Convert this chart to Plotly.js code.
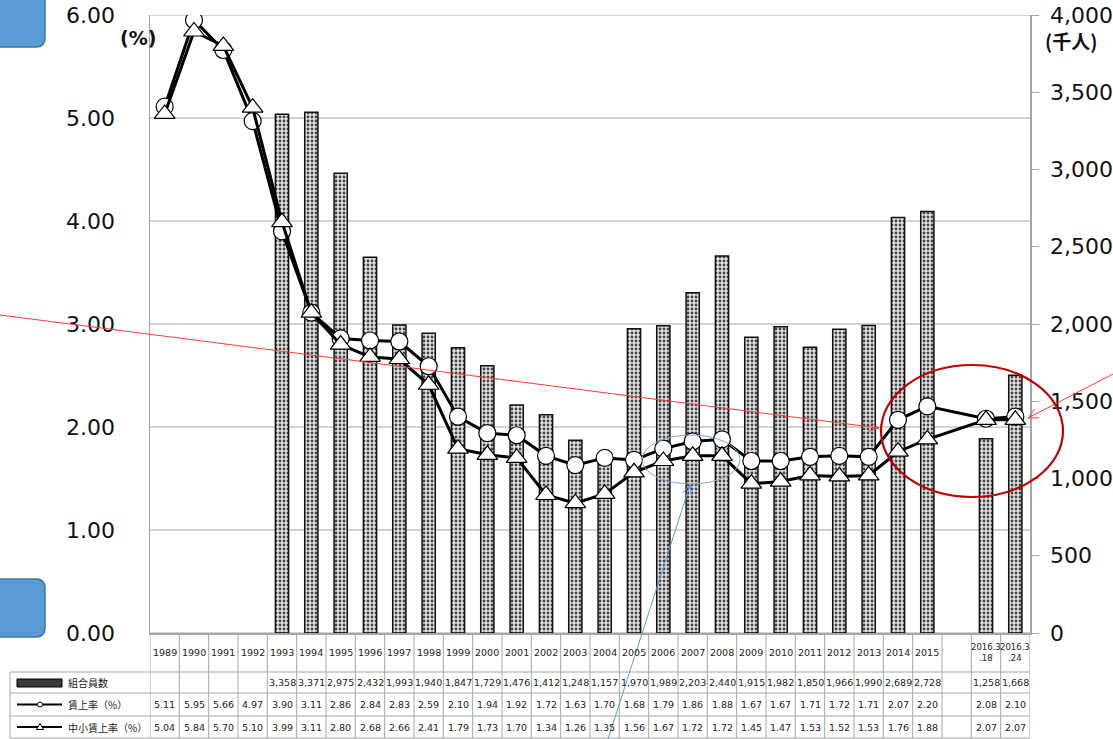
<!DOCTYPE html>
<html>
<head>
<meta charset="utf-8">
<script src="https://cdn.plot.ly/plotly-3.0.1.min.js"></script>
<style>html,body{margin:0;padding:0;background:#fff;}#chart{width:1113px;height:739px;}</style>
</head>
<body>
<div id="chart"></div>
<script>
// ---- data ----
const categories = ['1989','1990','1991','1992','1993','1994','1995','1996','1997','1998','1999','2000','2001','2002','2003','2004','2005','2006','2007','2008','2009','2010','2011','2012','2013','2014','2015',' ','2016.3.18','2016.3.24'];
const headerLabels = ['1989','1990','1991','1992','1993','1994','1995','1996','1997','1998','1999','2000','2001','2002','2003','2004','2005','2006','2007','2008','2009','2010','2011','2012','2013','2014','2015','','2016.3<br>.18','2016.3<br>.24'];
const members = [null,null,null,null,3358,3371,2975,2432,1993,1940,1847,1729,1476,1412,1248,1157,1970,1989,2203,2440,1915,1982,1850,1966,1990,2689,2728,null,1258,1668];
const rate = [5.11,5.95,5.66,4.97,3.90,3.11,2.86,2.84,2.83,2.59,2.10,1.94,1.92,1.72,1.63,1.70,1.68,1.79,1.86,1.88,1.67,1.67,1.71,1.72,1.71,2.07,2.20,null,2.08,2.10];
const smeRate = [5.04,5.84,5.70,5.10,3.99,3.11,2.80,2.68,2.66,2.41,1.79,1.73,1.70,1.34,1.26,1.35,1.56,1.67,1.72,1.72,1.45,1.47,1.53,1.52,1.53,1.76,1.88,null,2.07,2.07];
const seriesNames = ['組合員数','賃上率（%）','中小賃上率（%）'];
const leftTicks = [0,1,2,3,4,5,6];
const rightTicks = [0,500,1000,1500,2000,2500,3000,3500,4000];

// ---- geometry helpers (pixel -> paper) ----
const L=150, R=1030, T=15, B=633, W=R-L, H=B-T;
const px = X => (X-L)/W;
const py = Y => (B-Y)/H;

const fmtInt = v => v==null ? '' : v.toLocaleString('en-US');
const fmt2 = v => v==null ? '' : v.toFixed(2);

const tFont = {family:'DejaVu Sans, Verdana, sans-serif', size:9.5, color:'#222'};
const jFont = {family:'Noto Sans CJK JP, sans-serif', size:10, color:'#222'};

const annotations = [];
const shapes = [];
const gridCol = '#a6a6a6';

// table rows (pixel bounds)
const rowCenters = [652.5, 682.5, 704.5, 727];
const rows = [members.map(fmtInt), rate.map(fmt2), smeRate.map(fmt2)];

function note(o){ return Object.assign({showarrow:false, xanchor:'center', yanchor:'middle'}, o); }

categories.forEach((c,i)=>{
  annotations.push(note({xref:'x', yref:'paper', x:i, y:py(rowCenters[0]), text:headerLabels[i],
    font: headerLabels[i].indexOf('<br>')>=0 ? Object.assign({}, tFont, {size:8.5}) : tFont}));
  rows.forEach((r,k)=>{
    if (r[i]!=='') annotations.push(note({xref:'x', yref:'paper', x:i, y:py(rowCenters[k+1]), text:r[i], font:tFont}));
  });
});
// row labels
seriesNames.forEach((n,k)=>{
  annotations.push(note({xref:'paper', yref:'paper', x:px(66), y:py(rowCenters[k+1]), xanchor:'left', text:n, font:jFont}));
});
// vertical table lines
for (let i=0;i<=categories.length;i++){
  shapes.push({type:'line', xref:'x', yref:'paper', x0:i-0.5, x1:i-0.5, y0:py(633), y1:py(738), line:{color:gridCol, width:1}});
}
shapes.push({type:'line', xref:'paper', yref:'paper', x0:px(10), x1:px(10), y0:py(672), y1:py(738), line:{color:gridCol, width:1}});
// horizontal table lines
[672,693,716,738].forEach(Y=>{
  shapes.push({type:'line', xref:'paper', yref:'paper', x0:px(10), x1:px(1030), y0:py(Y), y1:py(Y), line:{color:gridCol, width:1}});
});
// legend symbols in table
shapes.push({type:'rect', xref:'paper', yref:'paper', x0:px(17), x1:px(62), y0:py(679), y1:py(687), fillcolor:'#3a3a3a', line:{color:'#000', width:1}});
[704.5, 727].forEach(Y=>{
  shapes.push({type:'line', xref:'paper', yref:'paper', x0:px(17), x1:px(62), y0:py(Y), y1:py(Y), line:{color:'#000', width:2}});
});
shapes.push({type:'circle', xref:'paper', yref:'paper', x0:px(37.5), x1:px(42.5), y0:py(707), y1:py(702), fillcolor:'#fff', line:{color:'#000', width:1}});
shapes.push({type:'path', xref:'paper', yref:'paper', path:`M ${px(36.5)} ${py(729.5)} L ${px(43.5)} ${py(729.5)} L ${px(40)} ${py(723.5)} Z`, fillcolor:'#fff', line:{color:'#000', width:1}});

// percent gridlines (below traces)
leftTicks.forEach(v=>{
  shapes.push({type:'line', xref:'paper', yref:'y2', x0:0, x1:1, y0:v, y1:v, layer:'below', line:{color:gridCol, width:1}});
});

// axis unit labels
annotations.push(note({xref:'paper', yref:'paper', x:px(138), y:py(38), text:'<b>(%)</b>', font:{family:'DejaVu Sans, sans-serif', size:19, color:'#111'}}));
annotations.push(note({xref:'paper', yref:'paper', x:px(1071), y:py(40), text:'<b>(千人)</b>', font:{family:'Noto Sans CJK JP, sans-serif', size:19, color:'#111'}}));

// decorations: blue rounded boxes
function roundBox(x0,y0,x1,y1,r){
  const P=(X,Y)=>`${px(X)} ${py(Y)}`;
  return `M ${P(x0+r,y0)} L ${P(x1-r,y0)} Q ${P(x1,y0)} ${P(x1,y0+r)} L ${P(x1,y1-r)} Q ${P(x1,y1)} ${P(x1-r,y1)} L ${P(x0+r,y1)} Q ${P(x0,y1)} ${P(x0,y1-r)} L ${P(x0,y0+r)} Q ${P(x0,y0)} ${P(x0+r,y0)} Z`;
}
shapes.push({type:'path', xref:'paper', yref:'paper', path:roundBox(-12,-12,45,47,9), fillcolor:'#5b9bd5', line:{color:'#41719c', width:1.5}, layer:'above'});
shapes.push({type:'path', xref:'paper', yref:'paper', path:roundBox(-12,579,45,637,9), fillcolor:'#5b9bd5', line:{color:'#41719c', width:1.5}, layer:'above'});

// arrows
function arrow(x0,y0,x1,y1,color,w){
  shapes.push({type:'line', xref:'paper', yref:'paper', x0:px(x0), y0:py(y0), x1:px(x1), y1:py(y1), line:{color:color, width:w}, layer:'above'});
  const a=Math.atan2(y1-y0,x1-x0), len=11, sp=0.45;
  [a+Math.PI-sp, a+Math.PI+sp].forEach(t=>{
    shapes.push({type:'line', xref:'paper', yref:'paper', x0:px(x1), y0:py(y1), x1:px(x1+len*Math.cos(t)), y1:py(y1+len*Math.sin(t)), line:{color:color, width:w}, layer:'above'});
  });
}
arrow(0,315,879,428,'#ff3b3b',1);
arrow(1113,374,1028,418,'#ff3b3b',1);
arrow(608,739,690,485,'#5b9bd5',1);

// ellipses
shapes.push({type:'circle', xref:'paper', yref:'paper', x0:px(881), x1:px(1063), y0:py(365), y1:py(497), line:{color:'#c00000', width:2.2}, layer:'above'});
shapes.push({type:'circle', xref:'paper', yref:'paper', x0:px(642), x1:px(740), y0:py(435), y1:py(484), line:{color:'#7fa6d0', width:1}, layer:'above'});

const traces = [
  {type:'bar', x:categories, y:members, name:seriesNames[0], yaxis:'y', width:0.45,
   marker:{color:'#e2e2e2', line:{color:'#111', width:1.5},
     pattern:{shape:'.', fgcolor:'#444', bgcolor:'#e4e4e4', size:4, solidity:0.4}}},
  {type:'scatter', mode:'lines+markers', x:categories, y:rate, name:seriesNames[1], yaxis:'y2', connectgaps:true,
   line:{color:'#000', width:3}, marker:{symbol:'circle', size:17, color:'#fff', line:{color:'#000', width:1.2}}},
  {type:'scatter', mode:'lines+markers', x:categories, y:smeRate, name:seriesNames[2], yaxis:'y2', connectgaps:true,
   line:{color:'#000', width:3}, marker:{symbol:'triangle-up', size:18, color:'#fff', line:{color:'#000', width:1.2}}}
];

const axFont = {family:'DejaVu Sans, Verdana, sans-serif', size:22, color:'#111'};
const layout = {
  width:1113, height:739,
  margin:{l:L, r:1113-R, t:T, b:739-B, pad:0},
  paper_bgcolor:'#fff', plot_bgcolor:'rgba(0,0,0,0)',
  showlegend:false,
  bargap:0.5,
  xaxis:{type:'category', categoryorder:'array', categoryarray:categories, range:[-0.5, categories.length-0.5],
    showticklabels:false, ticks:'', showgrid:false, showline:true, linecolor:gridCol, linewidth:1.5, zeroline:false, fixedrange:true},
  yaxis:{side:'right', range:[0,4000], tickvals:rightTicks, ticktext:rightTicks.map(fmtInt), showgrid:false, zeroline:false,
    showline:true, linecolor:gridCol, linewidth:1.5, ticks:'outside', ticklen:7, tickcolor:gridCol, tickfont:axFont,
    ticklabelstandoff:7, ticklabeloverflow:'allow', automargin:false},
  yaxis2:{side:'left', overlaying:'y', range:[0,6], tickvals:leftTicks, ticktext:leftTicks.map(v=>v.toFixed(2)), showgrid:false, zeroline:false,
    showline:true, linecolor:gridCol, linewidth:1.5, ticks:'', tickfont:axFont, ticklabelstandoff:29, ticklabeloverflow:'allow', automargin:false},
  annotations:annotations,
  shapes:shapes
};
Plotly.newPlot('chart', traces, layout, {displayModeBar:false, staticPlot:true});
</script>
</body>
</html>
